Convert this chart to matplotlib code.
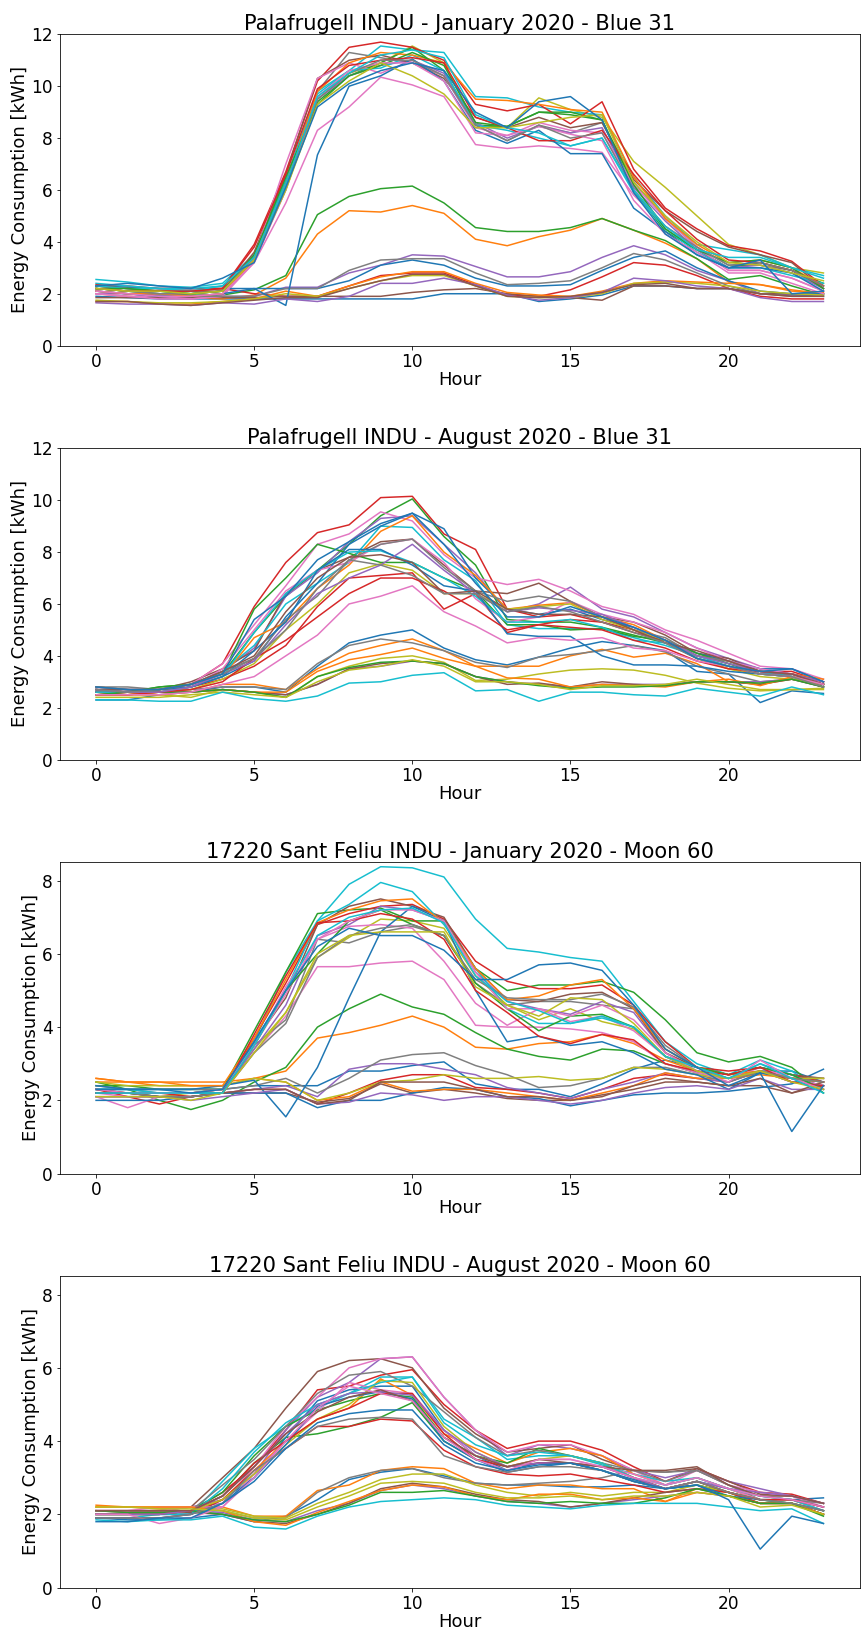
import matplotlib
matplotlib.use('Agg')
import matplotlib.pyplot as plt
from matplotlib.ticker import MultipleLocator
import numpy as np

hours = np.arange(24)

titles = ['Palafrugell INDU - January 2020 - Blue 31',
          'Palafrugell INDU - August 2020 - Blue 31',
          '17220 Sant Feliu INDU - January 2020 - Moon 60',
          '17220 Sant Feliu INDU - August 2020 - Moon 60']
ymax = [12, 12, 8.5, 8.5]

# one row per day of the month, 24 hourly values
jan_blue31 = [
    [1.9,1.85,1.8,1.8,1.8,1.8,1.8,1.8,1.8,1.8,1.8,2.0,2.0,2.0,1.7,1.8,1.95,2.3,2.3,2.2,2.2,2.0,1.95,1.9],
    [2.0,1.9,1.85,1.85,1.8,1.95,2.6,4.3,5.2,5.15,5.4,5.1,4.1,3.85,4.2,4.45,4.9,4.45,3.95,3.35,2.45,2.35,2.15,2.0],
    [2.2,2.1,2.0,1.95,1.95,2.15,2.7,5.05,5.75,6.05,6.15,5.5,4.55,4.4,4.4,4.55,4.9,4.45,4.05,3.35,2.55,2.7,2.3,1.95],
    [2.35,2.3,2.2,2.2,2.2,2.0,1.9,1.9,2.3,2.7,2.8,2.8,2.35,1.95,1.9,2.15,2.65,3.2,3.1,2.7,2.2,1.9,1.8,1.8],
    [2.0,2.0,1.95,1.9,1.9,1.9,2.25,2.25,2.8,3.1,3.5,3.45,3.05,2.65,2.65,2.85,3.4,3.85,3.5,2.9,2.5,2.0,1.95,2.0],
    [1.85,1.85,1.85,1.85,1.85,1.85,1.9,1.9,1.9,1.9,2.05,2.15,2.2,2.0,1.9,1.85,1.75,2.3,2.3,2.2,2.2,2.0,2.0,2.0],
    [2.0,1.9,1.8,1.8,1.9,3.2,5.5,8.3,9.2,10.35,10.05,9.6,7.75,7.6,7.7,7.6,7.45,5.8,4.6,3.7,2.9,2.9,2.6,2.1],
    [2.2,2.1,2.0,2.0,2.1,3.5,6.4,9.8,11.3,11.1,10.9,10.4,8.5,7.9,8.5,8.2,8.6,6.3,4.9,3.8,3.1,3.1,2.9,2.2],
    [2.3,2.2,2.1,2.1,2.2,3.3,6.0,9.5,10.5,10.9,11.55,10.9,8.5,8.4,9.55,9.1,8.8,7.1,6.1,5.0,3.9,3.5,3.0,2.8],
    [2.55,2.45,2.3,2.25,2.4,3.5,6.4,9.8,10.6,11.55,11.4,11.3,9.6,9.55,9.2,9.0,8.9,6.5,5.0,3.9,3.7,3.5,3.0,2.7],
    [2.3,2.25,2.2,2.2,2.2,2.2,2.2,2.2,2.5,3.1,3.3,3.1,2.6,2.3,2.3,2.35,2.9,3.4,3.65,3.0,2.5,2.1,2.0,2.0],
    [1.7,1.7,1.6,1.6,1.7,1.8,2.1,1.9,2.3,2.65,2.85,2.85,2.4,2.05,1.95,1.9,2.1,2.4,2.5,2.45,2.4,2.35,2.1,2.05],
    [2.2,2.1,2.1,2.0,2.1,3.3,6.3,9.4,10.4,10.9,11.5,10.6,8.5,8.45,9.0,9.0,8.7,6.0,4.4,3.7,3.0,3.2,2.9,2.4],
    [2.3,2.2,2.2,2.2,2.2,3.9,6.7,10.2,11.5,11.7,11.5,11.0,9.3,9.05,9.3,8.55,9.4,6.8,5.3,4.5,3.85,3.65,3.25,2.3],
    [2.1,2.0,1.9,1.9,2.0,3.3,6.1,9.5,10.4,10.8,11.0,10.5,8.6,8.0,8.45,8.2,8.4,6.1,4.8,3.7,3.0,3.1,2.8,2.2],
    [2.3,2.2,2.1,2.1,2.1,3.6,6.6,10.3,11.0,11.2,10.9,10.3,8.8,8.4,8.8,8.4,8.6,6.4,5.2,4.4,3.8,3.5,3.2,2.2],
    [2.0,1.9,1.9,1.8,1.9,3.4,7.0,10.3,10.9,10.5,11.0,10.4,8.4,8.1,8.6,8.3,8.2,6.2,4.9,3.8,2.9,2.9,2.6,2.1],
    [2.1,2.0,1.9,1.9,1.9,1.9,2.2,2.2,2.9,3.3,3.35,3.35,2.8,2.35,2.4,2.5,3.0,3.55,3.3,2.8,2.3,2.0,1.9,1.9],
    [1.75,1.7,1.65,1.65,1.7,1.8,2.0,1.9,2.2,2.5,2.7,2.7,2.3,1.9,1.85,1.85,2.0,2.4,2.45,2.4,2.3,2.1,2.0,1.95],
    [2.3,2.2,2.2,2.1,2.3,3.4,6.3,9.7,10.6,10.7,11.2,10.6,8.5,8.3,8.0,7.7,8.0,5.9,4.5,3.6,3.0,3.0,2.7,2.4],
    [2.1,2.0,1.9,1.9,2.0,2.2,1.55,7.35,10.0,10.4,11.05,10.2,8.3,7.8,8.3,7.4,7.4,5.3,4.4,3.5,3.0,3.0,2.8,2.1],
    [2.1,2.0,2.0,1.9,2.0,3.3,6.2,9.8,10.9,11.3,11.2,10.9,9.5,9.45,9.3,9.1,9.0,6.5,4.9,3.9,3.2,3.3,3.0,2.3],
    [2.2,2.2,2.1,2.0,2.1,3.5,6.5,9.3,10.4,10.8,11.3,10.8,8.6,8.45,9.0,8.9,8.7,6.2,4.5,3.7,3.2,3.3,3.0,2.2],
    [2.2,2.1,2.1,2.1,2.2,3.8,6.6,9.9,10.8,11.0,11.1,10.9,8.8,8.4,7.9,7.9,8.3,6.6,5.2,4.1,3.3,3.2,2.9,2.3],
    [1.65,1.6,1.6,1.55,1.65,1.6,1.8,1.7,1.9,2.4,2.4,2.6,2.35,1.95,1.75,1.85,2.05,2.6,2.5,2.3,2.2,1.85,1.7,1.7],
    [1.7,1.7,1.6,1.55,1.65,1.75,1.85,1.85,2.2,2.5,2.75,2.75,2.3,1.9,1.85,1.9,2.05,2.35,2.4,2.2,2.2,2.0,1.9,1.9],
    [2.1,2.0,1.9,1.9,2.0,3.2,6.0,9.6,10.6,10.9,10.9,10.2,8.2,8.1,8.45,8.15,7.9,5.6,4.3,3.6,2.8,2.8,2.4,2.0],
    [2.2,2.1,2.0,2.0,2.1,3.4,6.2,9.5,10.5,11.0,11.0,10.4,8.5,7.9,8.5,8.0,8.2,6.0,4.6,3.8,3.1,3.2,2.9,2.3],
    [2.2,2.1,2.1,2.0,2.1,3.3,6.0,9.3,10.2,10.9,10.4,9.7,8.4,8.4,8.6,8.8,8.9,6.3,5.0,4.0,3.2,3.1,2.8,2.5],
    [2.4,2.3,2.2,2.2,2.3,3.4,6.2,9.6,10.5,11.2,11.4,11.1,8.9,8.4,8.2,7.7,8.0,6.0,4.6,3.7,3.4,3.4,3.0,2.6],
    [2.3,2.4,2.3,2.2,2.6,3.2,6.1,9.2,10.1,10.6,10.9,10.6,9.0,8.4,9.4,9.6,8.7,5.9,4.3,3.5,3.0,3.3,2.0,2.1],
]

aug_blue31 = [
    [2.3,2.3,2.5,2.6,2.8,2.8,2.6,3.6,4.5,4.8,5.0,4.3,3.85,3.65,3.95,4.3,4.55,4.4,4.2,3.4,3.3,2.2,2.65,2.55],
    [2.6,2.5,2.6,2.6,2.9,2.9,2.7,3.5,4.1,4.4,4.65,4.2,3.6,3.6,3.6,4.0,4.25,3.95,4.1,3.7,3.0,2.9,3.1,2.9],
    [2.6,2.6,2.8,2.9,3.3,4.9,6.3,7.3,8.3,9.4,10.05,8.6,7.5,5.4,5.3,5.3,5.1,4.8,4.5,4.0,3.7,3.4,3.2,2.9],
    [2.7,2.6,2.7,2.9,3.7,5.9,7.6,8.75,9.05,10.1,10.15,8.7,8.1,5.8,5.5,5.6,5.3,4.9,4.6,4.0,3.8,3.4,3.4,3.0],
    [2.8,2.7,2.6,2.8,3.4,4.3,6.3,7.2,8.4,9.3,9.4,8.3,7.2,5.7,6.0,6.65,5.8,5.5,4.9,4.3,3.9,3.5,3.3,2.9],
    [2.8,2.7,2.7,3.0,3.5,4.2,6.4,7.3,7.8,8.4,8.5,7.5,6.5,6.4,6.8,6.1,5.5,5.3,4.8,4.1,3.9,3.4,3.3,3.0],
    [2.7,2.7,2.7,2.9,3.7,5.2,6.7,8.3,8.7,9.55,9.2,7.9,7.0,6.75,6.95,6.5,5.9,5.6,5.0,4.6,4.1,3.6,3.5,3.1],
    [2.8,2.8,2.7,2.7,2.8,2.8,2.7,3.7,4.4,4.65,4.5,4.2,3.75,3.55,3.95,4.05,4.2,4.4,4.15,3.6,3.3,3.0,3.1,2.9],
    [2.5,2.5,2.5,2.4,2.7,2.6,2.4,3.2,3.6,3.9,4.0,3.75,3.05,3.1,3.3,3.45,3.5,3.45,3.25,2.95,2.75,2.65,2.7,2.75],
    [2.6,2.6,2.7,2.9,3.4,4.4,6.0,6.8,7.6,9.0,8.95,7.7,6.9,5.2,5.05,5.05,5.05,4.7,4.4,4.0,3.6,3.3,3.2,2.8],
    [2.7,2.7,2.6,2.8,3.2,3.8,5.5,6.8,8.3,9.0,9.5,8.9,7.0,5.8,5.6,5.8,5.4,5.1,4.6,4.1,3.8,3.5,3.5,3.0],
    [2.6,2.6,2.7,2.8,3.2,4.7,5.3,6.6,7.5,8.8,9.4,8.0,7.1,5.8,5.95,6.05,5.5,5.2,4.6,3.9,3.5,3.3,3.3,3.1],
    [2.7,2.6,2.8,2.9,3.3,5.8,7.0,8.3,7.95,7.6,7.6,7.0,6.5,5.2,5.2,5.0,5.05,4.75,4.6,4.1,3.7,3.3,3.2,2.8],
    [2.6,2.5,2.6,2.8,3.1,3.6,4.4,5.9,7.0,7.1,7.2,5.8,6.4,4.9,5.2,5.4,5.3,5.0,4.5,3.9,3.6,3.3,3.3,3.0],
    [2.6,2.6,2.6,2.6,2.7,2.6,2.5,2.9,3.5,3.6,3.8,3.7,3.2,3.0,2.9,2.8,2.9,2.9,2.9,3.0,3.0,3.0,3.1,2.8],
    [2.6,2.6,2.6,2.6,2.7,2.6,2.5,2.9,3.5,3.7,3.8,3.7,3.2,2.9,2.95,2.8,3.0,2.9,2.85,3.0,3.0,2.9,3.1,2.8],
    [2.7,2.6,2.6,2.8,3.5,5.0,6.5,7.3,7.6,8.3,8.5,7.6,6.2,5.3,5.5,6.1,5.6,5.3,4.9,4.3,3.8,3.5,3.3,2.9],
    [2.8,2.7,2.7,2.9,3.4,3.9,5.4,6.3,7.7,8.3,8.5,7.4,6.5,6.1,6.3,6.1,5.5,5.0,4.7,4.0,3.8,3.3,3.2,2.8],
    [2.5,2.5,2.6,2.7,3.1,3.7,5.0,6.0,7.2,7.55,7.3,6.4,6.4,5.8,5.9,6.0,5.4,5.0,4.6,3.9,3.5,3.2,3.1,2.9],
    [2.6,2.6,2.6,2.8,3.2,4.9,6.4,7.3,8.0,8.05,7.6,7.0,6.3,5.3,5.3,5.4,5.1,4.6,4.5,3.9,3.6,3.3,3.3,2.9],
    [2.7,2.6,2.7,2.8,3.2,4.2,5.3,7.3,8.1,8.1,7.5,6.7,6.5,4.85,4.75,4.75,4.0,3.65,3.65,3.6,3.4,3.3,3.2,2.9],
    [2.5,2.5,2.5,2.6,2.7,2.6,2.6,3.4,3.85,4.05,4.3,3.9,3.6,3.15,3.1,2.8,2.9,2.85,2.8,3.0,3.1,2.85,3.2,2.9],
    [2.5,2.6,2.6,2.6,2.7,2.6,2.4,3.2,3.55,3.75,3.8,3.7,3.2,3.0,2.85,2.75,2.8,2.8,2.85,3.0,3.0,2.95,3.1,2.8],
    [2.5,2.5,2.6,2.7,3.0,3.9,4.6,5.5,6.4,7.0,7.0,6.5,5.8,5.0,5.2,5.1,5.0,4.6,4.3,3.8,3.5,3.4,3.3,2.9],
    [2.7,2.6,2.6,2.8,3.3,3.8,5.2,6.4,7.0,7.5,8.3,7.3,6.4,5.7,5.85,5.75,5.6,5.1,4.6,4.0,3.7,3.4,3.3,3.0],
    [2.7,2.7,2.7,2.9,3.4,4.0,5.7,7.0,7.8,7.9,7.6,6.4,6.5,5.8,5.6,5.6,5.5,5.0,4.5,4.2,3.8,3.4,3.3,2.9],
    [2.5,2.5,2.5,2.6,2.9,3.2,4.0,4.8,6.0,6.3,6.7,5.7,5.15,4.5,4.7,4.6,4.7,4.3,4.2,3.8,3.6,3.3,3.2,2.9],
    [2.7,2.6,2.7,2.9,3.3,3.9,5.0,6.6,7.7,7.5,7.1,6.4,6.4,5.7,5.9,5.7,5.3,4.9,4.5,3.9,3.6,3.3,3.2,2.8],
    [2.4,2.4,2.4,2.5,2.6,2.5,2.4,3.0,3.45,3.6,3.85,3.6,3.0,3.0,2.9,2.7,2.85,2.85,2.9,3.1,2.9,2.7,2.7,2.7],
    [2.3,2.3,2.25,2.25,2.6,2.35,2.25,2.45,2.95,3.0,3.25,3.35,2.65,2.7,2.25,2.6,2.6,2.5,2.45,2.75,2.6,2.45,2.8,2.5],
    [2.8,2.7,2.7,2.9,3.3,5.4,6.3,7.7,8.4,9.1,9.5,8.3,6.8,5.5,5.5,5.9,5.5,5.1,4.6,3.9,3.6,3.4,3.5,3.0],
]

jan_moon60 = [
    [2.3,2.3,2.3,2.3,2.3,2.4,2.4,2.4,2.8,2.8,2.95,3.05,2.45,2.3,2.3,2.1,2.45,2.85,3.1,2.9,2.7,2.8,2.8,2.5],
    [2.5,2.5,2.4,2.4,2.4,2.6,2.8,3.7,3.85,4.05,4.3,4.0,3.45,3.4,3.55,3.6,3.8,3.55,3.1,2.8,2.6,2.8,2.6,2.5],
    [2.5,2.3,2.0,1.75,2.0,2.5,2.9,4.0,4.5,4.9,4.55,4.35,3.85,3.4,3.2,3.1,3.4,3.35,3.0,2.75,2.6,2.75,2.6,2.4],
    [2.3,2.1,1.9,2.1,2.2,2.3,2.3,1.9,2.2,2.55,2.7,2.7,2.35,2.3,2.2,2.05,2.3,2.6,2.7,2.6,2.5,2.8,2.5,2.4],
    [2.2,2.2,2.2,2.2,2.2,2.3,2.4,2.1,2.85,3.0,3.0,2.85,2.7,2.35,2.2,2.05,2.3,2.5,2.75,2.6,2.5,2.8,2.5,2.4],
    [2.1,2.1,2.1,2.1,2.2,2.2,2.2,1.95,2.05,2.45,2.2,2.3,2.2,2.05,2.0,2.0,2.15,2.3,2.5,2.5,2.4,2.4,2.2,2.4],
    [2.1,1.8,2.1,2.1,2.2,3.3,4.3,5.65,5.65,5.75,5.8,5.3,4.05,4.0,4.0,3.95,3.85,3.6,3.0,2.75,2.6,2.9,2.6,2.4],
    [2.3,2.3,2.2,2.2,2.3,3.5,4.2,6.4,6.3,6.6,6.75,6.5,5.2,4.6,4.7,4.7,4.6,4.5,3.4,2.9,2.7,2.9,2.7,2.5],
    [2.2,2.2,2.1,2.2,2.3,3.4,4.4,5.9,6.45,6.95,6.9,6.7,5.4,4.6,4.2,4.5,4.15,3.95,3.2,2.8,2.6,2.8,2.6,2.5],
    [2.3,2.3,2.3,2.3,2.3,3.6,5.5,6.9,7.9,8.38,8.35,8.1,6.95,6.15,6.05,5.9,5.8,4.7,3.6,3.0,2.7,3.1,2.8,2.2],
    [2.0,2.0,2.0,2.1,2.2,2.2,2.2,1.8,2.0,2.0,2.2,2.35,2.3,2.1,2.05,1.85,2.0,2.15,2.2,2.2,2.25,2.35,2.45,2.85],
    [2.6,2.5,2.5,2.5,2.5,2.6,2.5,2.0,2.1,2.5,2.25,2.3,2.3,2.2,2.1,2.0,2.2,2.4,2.75,2.6,2.6,2.7,2.6,2.6],
    [2.4,2.4,2.3,2.3,2.3,3.9,5.5,7.1,7.2,7.25,6.9,6.9,5.6,5.0,5.15,5.15,5.25,4.95,4.2,3.3,3.05,3.2,2.9,2.2],
    [2.3,2.2,2.2,2.2,2.2,3.7,5.2,6.8,7.1,7.3,7.35,6.95,5.8,5.25,5.05,5.05,5.15,4.6,3.6,2.9,2.8,2.9,2.7,2.5],
    [2.2,2.2,2.1,2.1,2.2,3.4,4.6,6.5,6.8,7.3,7.2,6.9,5.5,4.7,4.5,4.35,4.7,4.4,3.3,2.8,2.6,2.8,2.6,2.4],
    [2.3,2.2,2.2,2.2,2.3,3.6,4.8,6.8,7.3,7.5,7.3,7.0,5.6,4.75,4.7,4.9,4.95,4.5,3.3,2.9,2.7,2.9,2.7,2.6],
    [2.2,2.1,2.1,2.1,2.2,3.5,4.9,6.4,6.75,6.8,6.7,5.8,4.65,4.05,4.5,4.15,4.3,3.9,3.2,2.8,2.6,2.9,2.6,2.4],
    [2.4,2.3,2.3,2.3,2.3,2.4,2.6,2.2,2.6,3.1,3.25,3.3,2.95,2.7,2.35,2.4,2.6,2.9,2.9,2.7,2.5,2.8,2.6,2.6],
    [2.5,2.4,2.4,2.4,2.4,2.6,2.5,2.0,2.2,2.5,2.55,2.7,2.6,2.6,2.65,2.55,2.6,2.9,2.85,2.7,2.6,2.8,2.6,2.6],
    [2.3,2.3,2.2,2.2,2.2,3.6,5.0,6.9,7.35,7.95,7.7,6.8,5.6,4.5,4.1,4.1,4.25,4.0,3.2,2.8,2.6,3.0,2.7,2.3],
    [2.4,2.3,2.3,2.3,2.4,2.55,1.55,2.9,4.8,6.6,7.3,6.9,5.0,3.6,3.75,3.5,3.6,3.3,2.85,2.7,2.3,2.75,2.6,2.5],
    [2.6,2.5,2.5,2.4,2.4,3.7,5.3,6.85,7.2,7.45,7.5,6.85,5.6,4.75,4.85,5.15,5.3,4.5,3.4,2.9,2.7,2.8,2.6,2.5],
    [2.2,2.2,2.1,2.1,2.2,3.5,5.0,6.0,6.9,7.2,6.8,6.5,5.2,4.5,3.9,4.3,4.35,4.0,3.2,2.9,2.7,2.9,2.7,2.3],
    [2.2,2.2,2.2,2.1,2.2,3.8,5.4,6.85,6.9,7.1,6.95,6.4,5.0,4.4,3.75,3.55,3.8,3.65,3.0,2.8,2.7,2.9,2.5,2.4],
    [2.1,2.1,2.1,2.0,2.1,2.2,2.3,1.9,1.95,2.2,2.15,2.0,2.1,2.1,2.0,1.9,2.0,2.2,2.35,2.4,2.3,2.6,2.3,2.3],
    [2.2,2.2,2.1,2.1,2.2,2.3,2.3,1.9,2.0,2.5,2.5,2.5,2.3,2.1,2.1,2.0,2.1,2.4,2.6,2.5,2.4,2.6,2.2,2.5],
    [2.3,2.2,2.2,2.2,2.3,3.5,5.1,6.4,6.9,7.2,7.2,6.9,5.5,4.5,4.5,4.3,4.6,4.2,3.3,2.8,2.5,3.1,2.6,2.3],
    [2.2,2.2,2.1,2.1,2.2,3.3,4.1,5.9,6.5,6.7,6.8,6.5,5.3,4.8,4.75,4.75,4.9,4.55,3.5,2.9,2.6,2.8,2.6,2.5],
    [2.1,2.1,2.1,2.0,2.2,3.3,4.4,6.0,6.5,6.6,6.6,6.6,5.1,4.6,4.3,4.8,4.75,4.1,3.2,2.8,2.6,2.8,2.5,2.3],
    [2.2,2.2,2.2,2.2,2.2,3.5,5.0,6.5,7.0,7.2,7.25,6.85,5.4,4.7,4.45,4.1,4.3,4.0,3.2,2.9,2.6,3.0,2.6,2.2],
    [2.3,2.3,2.3,2.2,2.3,3.6,5.0,6.2,6.7,6.5,6.5,6.1,5.3,5.3,5.7,5.75,5.55,4.6,3.4,2.9,2.4,2.75,1.15,2.4],
]

aug_moon60 = [
    [1.9,1.85,1.85,1.9,2.0,1.8,1.95,2.4,2.95,3.15,3.25,3.05,2.85,2.8,2.8,2.75,2.75,2.8,2.7,2.8,2.6,2.4,2.4,2.45],
    [2.25,2.2,2.15,2.2,2.2,1.95,1.95,2.65,2.8,3.2,3.3,3.25,2.85,2.7,2.8,2.8,2.7,2.7,2.35,2.7,2.6,2.3,2.3,2.1],
    [2.0,2.0,2.0,2.1,2.5,3.4,4.1,4.2,4.4,4.65,5.05,4.0,3.5,3.3,3.4,3.4,3.2,2.9,2.7,2.8,2.6,2.3,2.3,2.0],
    [2.0,2.0,2.0,2.1,2.6,3.3,4.3,5.4,5.5,5.8,5.95,5.0,4.3,3.8,4.0,4.0,3.75,3.3,2.9,3.25,2.9,2.6,2.55,2.3],
    [2.1,2.1,2.1,2.2,2.4,3.1,4.3,5.2,5.6,6.25,6.3,5.2,4.3,3.6,3.9,3.8,3.6,3.2,3.0,3.2,2.9,2.7,2.5,2.3],
    [2.0,2.0,2.1,2.2,3.0,3.8,4.9,5.9,6.2,6.25,6.0,4.9,4.2,3.7,3.8,3.9,3.5,3.2,3.15,3.25,2.9,2.55,2.5,2.3],
    [2.1,2.1,2.1,2.2,2.3,3.3,4.4,5.2,6.0,6.25,6.3,5.2,4.3,3.7,3.9,3.9,3.6,3.2,2.8,3.2,2.8,2.6,2.5,2.2],
    [2.1,2.1,2.1,2.1,2.1,1.9,1.9,2.6,3.0,3.2,3.25,3.0,2.85,2.8,2.85,2.9,3.0,3.2,3.15,3.2,2.8,2.4,2.4,2.3],
    [2.2,2.2,2.2,2.2,2.15,1.95,1.9,2.3,2.6,2.95,3.1,3.1,2.8,2.6,2.5,2.6,2.5,2.6,2.6,2.8,2.6,2.3,2.3,2.1],
    [1.9,1.9,2.0,2.0,2.9,3.8,4.4,4.9,5.3,5.75,5.75,4.6,4.1,3.5,3.6,3.6,3.35,3.1,2.9,3.0,2.7,2.4,2.4,2.1],
    [2.0,2.0,2.0,2.0,2.4,3.0,4.1,5.1,5.4,5.5,5.5,4.3,3.6,3.2,3.4,3.4,3.2,2.9,2.7,2.9,2.7,2.5,2.4,2.2],
    [2.1,2.1,2.1,2.1,2.4,3.2,4.0,4.6,4.9,5.7,5.25,4.2,3.8,3.4,3.7,3.8,3.6,3.1,2.8,3.0,2.7,2.4,2.4,2.1],
    [2.0,2.0,2.0,2.1,2.6,3.6,4.4,4.85,5.1,5.3,5.2,4.1,3.6,3.4,3.8,3.6,3.4,3.0,2.7,2.9,2.6,2.4,2.3,2.0],
    [1.9,1.9,1.9,2.0,2.4,3.2,3.8,4.4,4.4,4.6,4.55,3.75,3.3,3.1,3.05,3.1,2.95,2.8,2.6,2.7,2.6,2.3,2.3,2.0],
    [2.1,2.1,2.1,2.1,2.05,1.85,1.8,2.1,2.3,2.65,2.8,2.7,2.5,2.35,2.3,2.2,2.3,2.4,2.5,2.6,2.5,2.3,2.3,2.1],
    [2.1,2.05,2.05,2.05,2.0,1.8,1.75,2.0,2.3,2.7,2.85,2.75,2.55,2.4,2.35,2.2,2.3,2.45,2.6,2.7,2.5,2.3,2.3,2.0],
    [2.1,2.1,2.2,2.2,2.2,3.1,4.0,4.8,5.6,5.4,5.3,4.3,3.6,3.3,3.5,3.5,3.3,3.1,2.8,3.0,2.7,2.4,2.4,2.1],
    [2.0,2.0,2.0,2.1,2.8,3.5,4.4,5.3,5.8,5.9,5.5,4.8,4.1,3.6,3.75,3.6,3.4,3.2,2.9,3.2,2.8,2.5,2.4,2.2],
    [2.0,2.0,2.0,2.1,2.4,3.1,3.9,4.6,5.0,5.65,5.6,4.4,3.7,3.3,3.5,3.6,3.4,3.0,2.7,2.9,2.6,2.4,2.3,2.1],
    [2.0,2.0,2.0,2.0,2.7,3.7,4.5,5.0,5.3,5.6,5.75,4.5,3.9,3.6,3.7,3.6,3.4,3.0,2.8,3.0,2.7,2.5,2.4,2.1],
    [1.9,1.9,1.9,2.0,2.3,3.0,3.9,4.95,5.2,5.35,5.15,4.0,3.5,3.15,3.3,3.4,3.2,2.95,2.7,2.8,2.5,2.4,2.3,2.1],
    [2.2,2.2,2.2,2.2,2.1,1.8,1.7,2.05,2.35,2.65,2.8,2.75,2.5,2.4,2.55,2.55,2.4,2.45,2.35,2.6,2.5,2.3,2.3,2.0],
    [2.1,2.05,2.05,2.1,2.0,1.85,1.8,2.0,2.25,2.6,2.6,2.65,2.5,2.35,2.3,2.35,2.3,2.3,2.45,2.7,2.5,2.3,2.3,1.95],
    [2.0,2.0,2.0,2.1,2.5,3.4,4.0,4.6,4.9,5.3,5.3,4.2,3.5,3.3,3.4,3.4,3.3,3.0,2.7,2.9,2.6,2.4,2.4,2.2],
    [2.0,2.0,2.0,2.1,2.5,3.3,4.2,5.0,5.3,5.35,5.25,4.3,3.7,3.3,3.4,3.4,3.3,3.0,2.7,2.9,2.7,2.6,2.5,2.3],
    [2.1,2.1,2.1,2.1,2.5,3.3,4.2,4.8,5.2,5.4,5.1,4.1,3.6,3.3,3.5,3.4,3.3,3.2,3.2,3.3,2.8,2.5,2.5,2.3],
    [2.0,2.0,1.75,1.9,2.2,3.0,4.0,4.9,5.5,5.3,5.1,4.1,3.5,3.2,3.5,3.5,3.3,3.0,2.8,3.0,2.7,2.5,2.4,2.2],
    [1.9,1.9,1.9,2.0,2.3,3.2,3.8,4.4,4.6,4.65,4.6,3.6,3.3,3.15,3.3,3.3,3.2,2.9,2.7,2.9,2.6,2.4,2.3,2.1],
    [2.2,2.2,2.15,2.15,2.1,1.9,1.85,2.2,2.5,2.85,2.9,2.85,2.6,2.45,2.45,2.5,2.4,2.5,2.5,2.6,2.5,2.2,2.25,2.0],
    [1.85,1.8,1.85,1.85,1.95,1.65,1.6,1.95,2.2,2.35,2.4,2.45,2.4,2.25,2.2,2.15,2.25,2.3,2.3,2.3,2.2,2.1,2.15,1.75],
    [1.8,1.8,1.9,1.9,2.3,2.9,3.8,4.5,4.75,4.85,4.85,3.9,3.4,3.2,3.35,3.4,3.2,2.9,2.7,2.8,2.4,1.05,1.95,1.75],
]

panels = [jan_blue31, aug_blue31, jan_moon60, aug_moon60]

fig, axes = plt.subplots(4, 1, figsize=(865 / 72, 1635 / 72), dpi=72)
plt.subplots_adjust(left=0.069, right=0.994, top=0.979, bottom=0.029, hspace=0.33)

for ax, days, title, top in zip(axes, panels, titles, ymax):
    for day in days:
        ax.plot(hours, day)
    ax.set_ylim(0, top)
    ax.yaxis.set_major_locator(MultipleLocator(2))
    ax.xaxis.set_major_locator(MultipleLocator(5))
    ax.set_title(title, fontsize=21, pad=2)
    ax.set_xlabel('Hour', fontsize=18, labelpad=0)
    ax.set_ylabel('Energy Consumption [kWh]', fontsize=18, labelpad=2)
    ax.tick_params(labelsize=17)

plt.savefig('out.png', dpi=72)
